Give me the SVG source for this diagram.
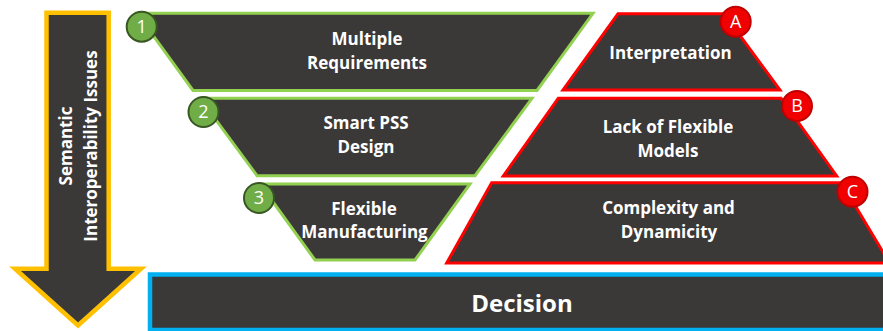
<svg xmlns="http://www.w3.org/2000/svg" width="883" height="331" viewBox="0 0 883 331">
<style>
.dark{fill:#3B3838}
.green{stroke:#92D050;stroke-width:3;stroke-linejoin:miter}
.red{stroke:#FF0000;stroke-width:3;stroke-linejoin:miter}
.lbl{font-family:"Open Sans","Liberation Sans",sans-serif;font-weight:700;font-size:17px;fill:#FFFFFF;text-anchor:middle}
.num{font-family:"Open Sans","Liberation Sans",sans-serif;font-weight:400;font-size:18px;fill:#FFFFFF;text-anchor:middle}
.gc{fill:#70AD47;stroke:#385723;stroke-width:2}
.rc{fill:#F00000;stroke:#C00000;stroke-width:2}
</style>
<g id="arrow">
<polygon class="dark" points="46.5,12.8 108.7,12.8 108.7,268.7 141,268.7 78,325.5 15,268.7 46.5,268.7" stroke="#FFC000" stroke-width="4.5"/>
<text class="lbl" transform="translate(71.5,146) rotate(-90)">Semantic</text>
<text class="lbl" transform="translate(96.5,146) rotate(-90)">Interoperability Issues</text>
</g>
<g id="decision">
<rect class="dark" x="150" y="274.5" width="740" height="55.5" stroke="#00B0F0" stroke-width="4.5"/>
<text class="lbl" x="522" y="311.5" style="font-size:24px">Decision</text>
</g>
<g id="node1">
<polygon class="dark green" points="137,13.3 593,13.3 537,90.5 193,90.5"/>
<text class="lbl" x="367" y="45">Multiple</text>
<text class="lbl" x="367" y="69">Requirements</text>
<circle class="gc" cx="141.7" cy="26.7" r="15"/>
<text class="num" x="141.7" y="33">1</text>
</g>
<g id="node2">
<polygon class="dark green" points="200,98.3 532,98.3 475,175.7 257,175.7"/>
<text class="lbl" x="366" y="129">Smart PSS</text>
<text class="lbl" x="366" y="153">Design</text>
<circle class="gc" cx="203.5" cy="112" r="15"/>
<text class="num" x="203.5" y="118.3">2</text>
</g>
<g id="node3">
<polygon class="dark green" points="260,184 470,184 415,260 315,260"/>
<text class="lbl" x="364" y="215">Flexible</text>
<text class="lbl" x="364.5" y="238">Manufacturing</text>
<circle class="gc" cx="259" cy="198" r="15"/>
<text class="num" x="259" y="204.3">3</text>
</g>
<g id="nodeA">
<polygon class="dark red" points="618,13.8 724,13.8 780,90 563,90"/>
<text class="lbl" x="670.5" y="59">Interpretation</text>
<circle class="rc" cx="735.7" cy="21.7" r="15"/>
<text class="num" x="735.7" y="28">A</text>
</g>
<g id="nodeB">
<polygon class="dark red" points="558.3,98.3 781,98.3 836.7,176 503.3,176"/>
<text class="lbl" x="668" y="133">Lack of Flexible</text>
<text class="lbl" x="668" y="157">Models</text>
<circle class="rc" cx="797" cy="106" r="15"/>
<text class="num" x="797" y="112.3">B</text>
</g>
<g id="nodeC">
<polygon class="dark red" points="491.7,182.7 841.5,182.7 889.5,263 446.7,263"/>
<text class="lbl" x="668.5" y="214">Complexity and</text>
<text class="lbl" x="669" y="238">Dynamicity</text>
<circle class="rc" cx="852.5" cy="191.7" r="15"/>
<text class="num" x="852.5" y="198">C</text>
</g>
<g id="connectors"/>
</svg>
